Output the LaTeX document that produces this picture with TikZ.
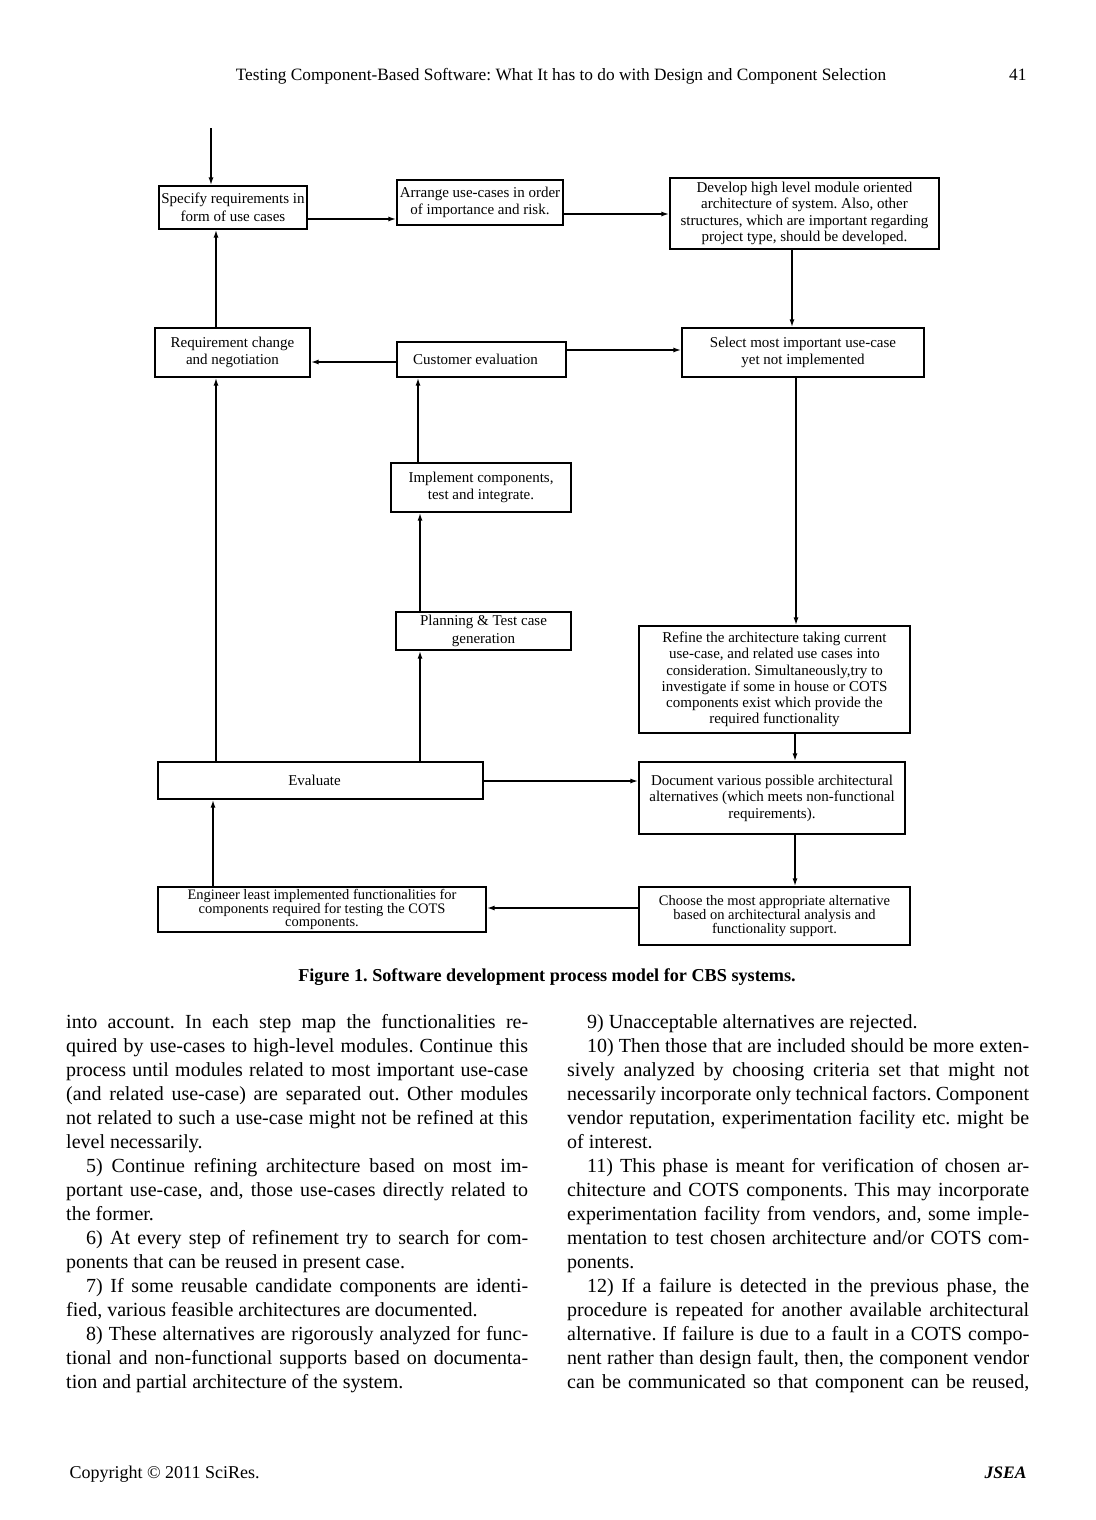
\documentclass[tikz,border=0pt]{standalone}
\usepackage{fontspec}
\setmainfont{Liberation Serif}
\usetikzlibrary{arrows.meta}
\frenchspacing

\tikzset{
  box/.style={draw, line width=1.3pt, inner sep=1pt, align=center,
    font=\fontsize{15}{17.5}\selectfont},
  arr/.style={line width=1.8pt, -{Latex[length=8pt,width=5pt]}},
  bodytext/.style={inner sep=0pt, font=\fontsize{20}{24}\selectfont},
}
\newcommand{\jline}[1]{\makebox[462pt][s]{#1}}
\newcommand{\colbox}[1]{\parbox[t]{462pt}{\raggedright#1}}

\begin{document}
\begin{tikzpicture}[x=1pt,y=-1pt]
  \useasboundingbox[fill=white] (0,0) rectangle (1095,1520);

  % running head
  \node[anchor=base, font=\fontsize{17.3}{20}\selectfont] (head) at (561,81)
    {Testing Component-Based Software: What It has to do with Design and Component Selection};
  \node[anchor=base east, font=\fontsize{17.3}{20}\selectfont] (pageno) at (1030,81) {41};

  % process boxes
  \node[box, minimum width=148pt, minimum height=43pt] (spec) at (233,207.5)
    {Specify requirements in\\form of use cases};
  \node[box, minimum width=166pt, minimum height=45pt] (arrange) at (480,202.5)
    {Arrange use-cases in order\\of importance and risk.};
  \node[box, minimum width=269pt, minimum height=71pt,
    font=\fontsize{15}{16.4}\selectfont] (develop) at (804.5,213.5)
    {Develop high level module oriented\\architecture of system. Also, other\\
     structures, which are important regarding\\project type, should be developed.};
  \node[box, minimum width=155pt, minimum height=49pt] (reqchg) at (232.5,352.5)
    {Requirement change\\and negotiation};
  \node[box, minimum width=169pt, minimum height=35pt] (custeval) at (481.5,359.5)
    {Customer evaluation\hspace*{12pt}};
  \node[box, minimum width=242pt, minimum height=49pt] (select) at (803,352.5)
    {Select most important use-case\\yet not implemented};
  \node[box, minimum width=180pt, minimum height=49pt] (impl) at (481,487.5)
    {Implement components,\\test and integrate.};
  \node[box, minimum width=175pt, minimum height=38pt] (plan) at (483.5,631)
    {Planning \& Test case\\generation};
  \node[box, minimum width=271pt, minimum height=107pt,
    font=\fontsize{15}{16.2}\selectfont] (refine) at (774.5,679.5)
    {Refine the architecture taking current\\use-case, and related use cases into\\
     consideration. Simultaneously,try to\\investigate if some in house or COTS\\
     components exist which provide the\\required functionality};
  \node[box, minimum width=325pt, minimum height=37pt] (evaluate) at (320.5,780.5)
    {Evaluate\hspace*{12pt}};
  \node[box, minimum width=266pt, minimum height=72pt,
    font=\fontsize{15}{16.5}\selectfont] (document) at (772,798)
    {Document various possible architectural\\alternatives (which meets non-functional\\requirements).};
  \node[box, minimum width=328pt, minimum height=45pt,
    font=\fontsize{14.5}{13}\selectfont] (engineer) at (322,909.5)
    {Engineer least implemented functionalities for\\components required for testing the COTS\\components.};
  \node[box, minimum width=271pt, minimum height=58pt,
    font=\fontsize{14.5}{12.8}\selectfont] (choose) at (774.5,916)
    {Choose the most appropriate alternative\\based on architectural analysis and\\functionality support.};

  % connectors
  \coordinate (entry) at (211,128);
  \draw[arr] (entry) -- (entry |- spec.north);
  \draw[arr] ([yshift=-11.5pt]spec.east) -- ([yshift=-11.5pt]spec.east -| arrange.west);
  \draw[arr] ([yshift=-11.5pt]arrange.east) -- ([yshift=-11.5pt]arrange.east -| develop.west);
  \draw[arr] ([xshift=-12.5pt]develop.south) -- ([xshift=-12.5pt]develop.south |- select.north);
  \draw[arr] ([xshift=-7pt]select.south) -- ([xshift=-7pt]select.south |- refine.north);
  \draw[arr] ([xshift=20.5pt]refine.south) -- ([xshift=20.5pt]refine.south |- document.north);
  \draw[arr] ([xshift=23pt]document.south) -- ([xshift=23pt]document.south |- choose.north);
  \draw[arr] ([yshift=8pt]choose.west) -- ([yshift=8pt]choose.west -| engineer.east);
  \draw[arr] ([xshift=-109pt]engineer.north) -- ([xshift=-109pt]engineer.north |- evaluate.south);
  \draw[arr] ([yshift=-0.5pt]evaluate.east) -- ([yshift=-0.5pt]evaluate.east -| document.west);
  \draw[arr] ([xshift=99.5pt]evaluate.north) -- ([xshift=99.5pt]evaluate.north |- plan.south);
  \draw[arr] ([xshift=-104.5pt]evaluate.north) -- ([xshift=-104.5pt]evaluate.north |- reqchg.south);
  \draw[arr] ([xshift=-63.5pt]plan.north) -- ([xshift=-63.5pt]plan.north |- impl.south);
  \draw[arr] ([xshift=-63pt]impl.north) -- ([xshift=-63pt]impl.north |- custeval.south);
  \draw[arr] ([yshift=-2.5pt]custeval.west) -- ([yshift=-2.5pt]custeval.west -| reqchg.east);
  \draw[arr] ([yshift=9.5pt]custeval.east) -- ([yshift=9.5pt]custeval.east -| select.west);
  \draw[arr] ([xshift=-16.5pt]reqchg.north) -- ([xshift=-16.5pt]reqchg.north |- spec.south);

  % caption
  \node[anchor=base, font=\fontsize{18.2}{20}\selectfont\bfseries] (caption) at (547,981)
    {Figure 1. Software development process model for CBS systems.};

  % body text, two columns
  \node[bodytext, anchor=base west] (colL) at (66,1028) {\colbox{%
    \jline{into account. In each step map the functionalities re-}\\
    \jline{quired by use-cases to high-level modules. Continue this}\\
    \jline{process until modules related to most important use-case}\\
    \jline{(and related use-case) are separated out. Other modules}\\
    \jline{not related to such a use-case might not be refined at this}\\
    level necessarily.\\
    \jline{\hspace*{20pt}5) Continue refining architecture based on most im-}\\
    \jline{portant use-case, and, those use-cases directly related to}\\
    the former.\\
    \jline{\hspace*{20pt}6) At every step of refinement try to search for com-}\\
    \hspace*{0pt}ponents that can be reused in present case.\\
    \jline{\hspace*{20pt}7) If some reusable candidate components are identi-}\\
    fied, various feasible architectures are documented.\\
    \jline{\hspace*{20pt}8) These alternatives are rigorously analyzed for func-}\\
    \jline{tional and non-functional supports based on documenta-}\\
    tion and partial architecture of the system.}};
  \node[bodytext, anchor=base west] (colR) at (567,1028) {\colbox{%
    \hspace*{20pt}9) Unacceptable alternatives are rejected.\\
    \jline{\hspace*{20pt}10) Then those that are included should be more exten-}\\
    \jline{sively analyzed by choosing criteria set that might not}\\
    \jline{necessarily incorporate only technical factors. Component}\\
    \jline{vendor reputation, experimentation facility etc. might be}\\
    of interest.\\
    \jline{\hspace*{20pt}11) This phase is meant for verification of chosen ar-}\\
    \jline{chitecture and COTS components. This may incorporate}\\
    \jline{experimentation facility from vendors, and, some imple-}\\
    \jline{mentation to test chosen architecture and/or COTS com-}\\
    \hspace*{0pt}ponents.\\
    \jline{\hspace*{20pt}12) If a failure is detected in the previous phase, the}\\
    \jline{procedure is repeated for another available architectural}\\
    \jline{alternative. If failure is due to a fault in a COTS compo-}\\
    \jline{nent rather than design fault, then, the component vendor}\\
    \jline{can be communicated so that component can be reused,}}};

  % footer
  \node[anchor=base west, font=\fontsize{18}{20}\selectfont] (copyright) at (66,1478)
    {Copyright © 2011 SciRes.};
  \node[anchor=base east, font=\fontsize{17.5}{20}\selectfont\bfseries\itshape] (journal) at (1030,1478)
    {JSEA};
\end{tikzpicture}
\end{document}
